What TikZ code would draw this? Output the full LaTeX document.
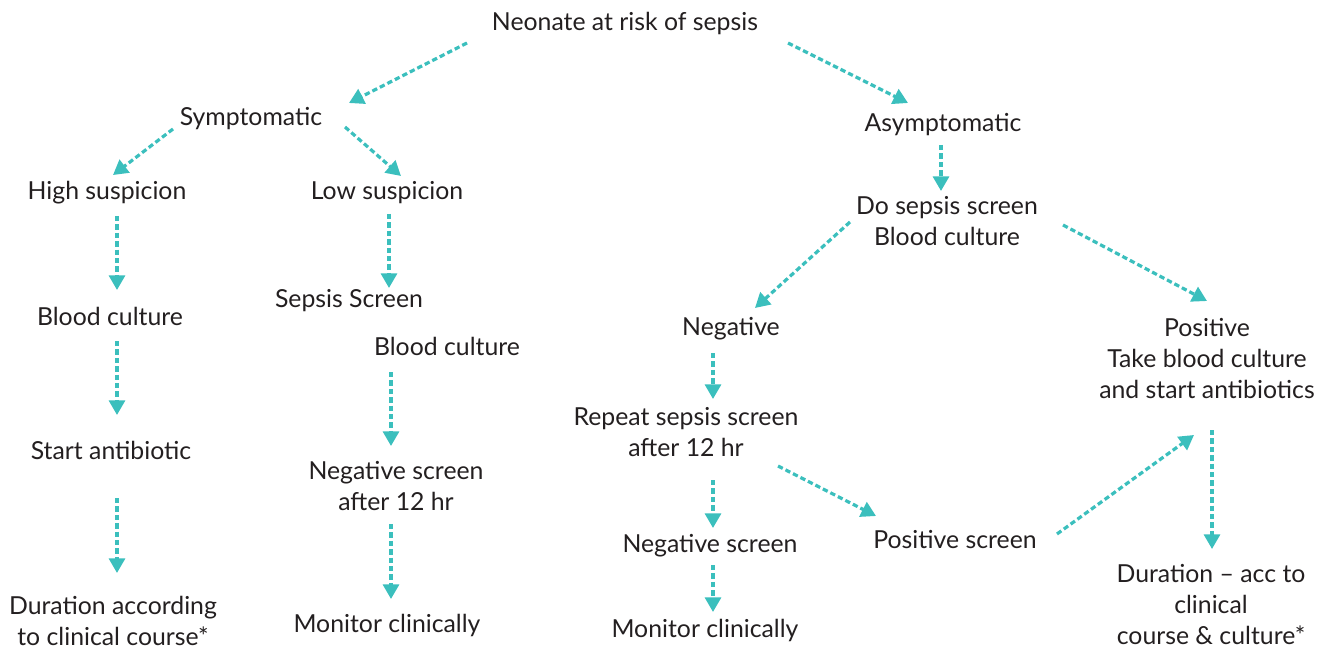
\documentclass[tikz,border=0pt]{standalone}
\usepackage{fontspec}
\setmainfont{Lato}
\usetikzlibrary{arrows.meta}
\definecolor{teal1}{HTML}{3BBFBD}
\definecolor{ink}{HTML}{231F20}
\tikzset{
  lbl/.style={inner sep=0pt, align=center, text=ink, yshift=-0.3pt, font=\fontsize{18.6}{23.25}\selectfont},
  conn/.style={draw=teal1, line width=2.4pt, dash pattern=on 4pt off 2.3pt,
    -{Triangle[length=11pt,width=12pt]}, shorten >=0pt}
}
\begin{document}
\begin{tikzpicture}[x=0.75pt,y=-0.75pt]
\useasboundingbox (0,0) rectangle (1328,649);
% nodes
\node[lbl] (root) at (625,23) {Neonate at risk of sepsis};
\node[lbl] (sym) at (251,118) {Symptomatic};
\node[lbl] (asym) at (943,124) {Asymptomatic};
\node[lbl] (high) at (107,192) {High suspicion};
\node[lbl] (low) at (387,192) {Low suspicion};
\node[lbl] (dss) at (947,221) {Do sepsis screen\\Blood culture};
\node[lbl] (bc1) at (110,316) {Blood culture};
\node[lbl] (ss) at (349,300) {Sepsis Screen};
\node[lbl] (bc2) at (447,346) {Blood culture};
\node[lbl] (neg) at (731,328) {Negative};
\node[lbl] (pos) at (1207,358) {Positive\\Take blood culture\\and start antibiotics};
\node[lbl] (sa) at (111,450) {Start antibiotic};
\node[lbl] (rep) at (686,432) {Repeat sepsis screen\\after 12 hr};
\node[lbl] (negs12) at (396,486) {Negative screen\\after 12 hr};
\node[lbl] (negs) at (710,545) {Negative screen};
\node[lbl] (poss) at (955,539) {Positive screen};
\node[lbl] (dur1) at (113,621) {Duration according\\to clinical course*};
\node[lbl] (mon1) at (387,625) {Monitor clinically};
\node[lbl] (mon2) at (705,630) {Monitor clinically};
\node[lbl] (dur2) at (1211,604) {Duration -- acc to\\clinical\\course \& culture*};
% connector ends
\coordinate (a1s) at (467,43);  \coordinate (a1e) at (349,103);
\coordinate (a2s) at (788,43);  \coordinate (a2e) at (908,103);
\coordinate (a3s) at (173,129); \coordinate (a3e) at (113,175);
\coordinate (a4s) at (345,127); \coordinate (a4e) at (401,176);
\coordinate (a5s) at (117,216); \coordinate (a5e) at (117,290);
\coordinate (a6s) at (389,214); \coordinate (a6e) at (389,288);
\coordinate (a7s) at (117,341); \coordinate (a7e) at (117,415);
\coordinate (a8s) at (117,498); \coordinate (a8e) at (117,573);
\coordinate (a9s) at (391,372); \coordinate (a9e) at (391,446);
\coordinate (a10s) at (391,524); \coordinate (a10e) at (391,599);
\coordinate (a11s) at (941,145); \coordinate (a11e) at (941,191);
\coordinate (a12s) at (850,222); \coordinate (a12e) at (755,308);
\coordinate (a13s) at (1063,225); \coordinate (a13e) at (1207,301);
\coordinate (a14s) at (713,353); \coordinate (a14e) at (713,399);
\coordinate (a15s) at (713,480); \coordinate (a15e) at (713,528);
\coordinate (a16s) at (778,466); \coordinate (a16e) at (876,516);
\coordinate (a17s) at (713,565); \coordinate (a17e) at (713,612);
\coordinate (a18s) at (1057,534); \coordinate (a18e) at (1194,435);
\coordinate (a19s) at (1212,430); \coordinate (a19e) at (1212,549);
% connectors
\foreach \i in {1,...,19} {\draw[conn] (a\i s) -- (a\i e);}
\end{tikzpicture}
\end{document}
